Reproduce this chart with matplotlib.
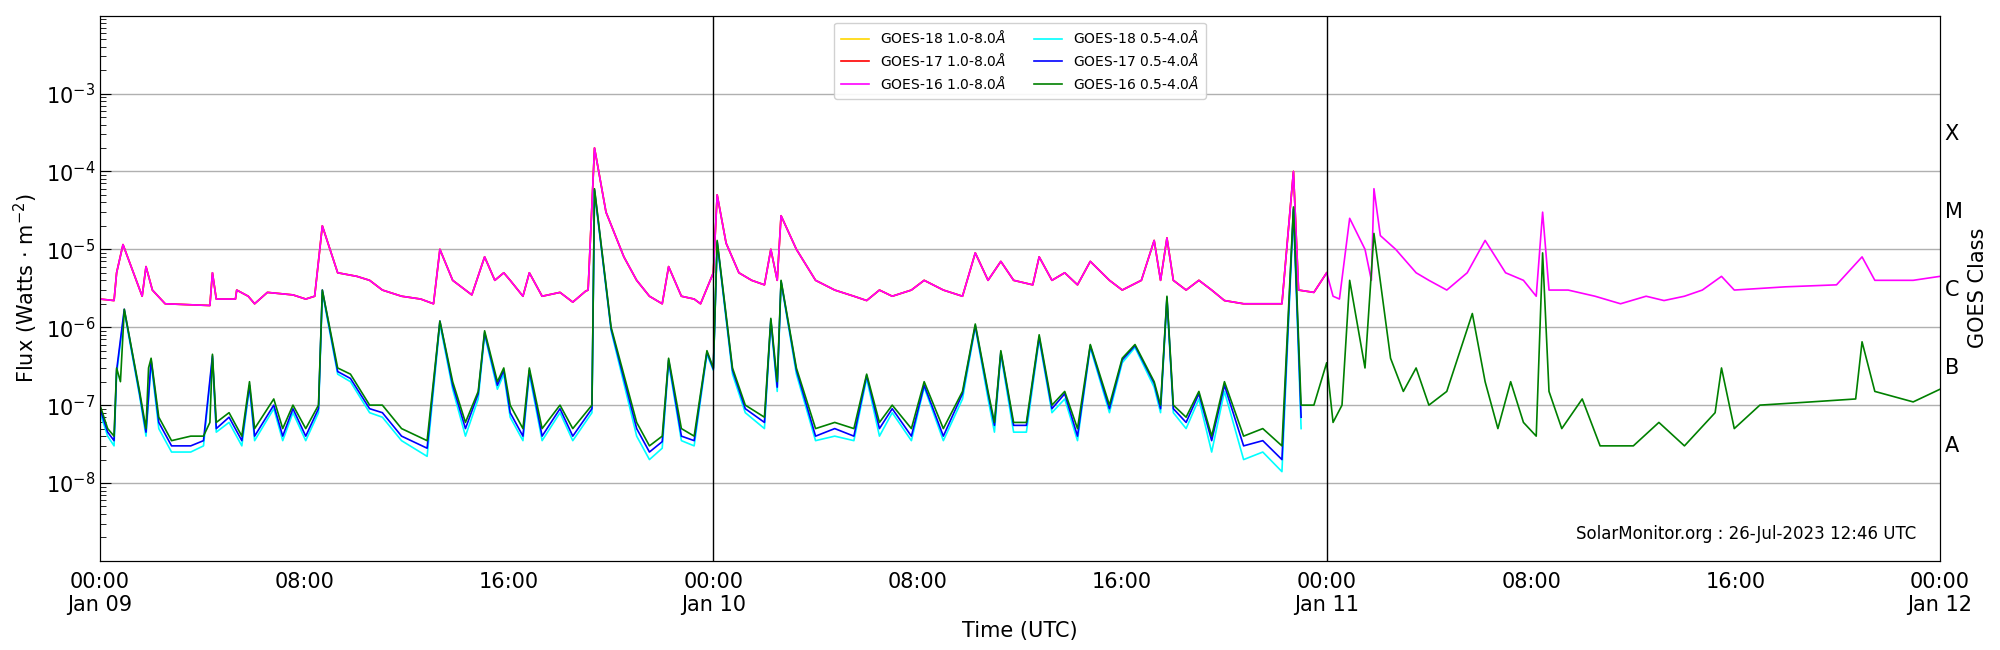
import matplotlib
matplotlib.use("Agg")
import matplotlib.pyplot as plt
from matplotlib.ticker import LogLocator, NullFormatter, FixedLocator

# hours since 2023-01-09 00:00 UTC, flux in W m^-2
g16_long = [
    (0, 2.3e-6), (0.55, 2.2e-6), (0.65, 5e-6), (0.9, 1.15e-5), (1.65, 2.5e-6), (1.8, 6e-6), (2.05, 3e-6),
    (2.55, 2e-6), (4.3, 1.9e-6), (4.4, 5e-6), (4.55, 2.3e-6), (5.3, 2.3e-6), (5.35, 3e-6), (5.8, 2.5e-6),
    (6.05, 2e-6), (6.55, 2.8e-6), (7.05, 2.7e-6), (7.55, 2.6e-6), (8.05, 2.3e-6), (8.4, 2.5e-6), (8.7, 2e-5),
    (9.3, 5e-6), (10.05, 4.5e-6), (10.55, 4e-6), (11.05, 3e-6), (11.8, 2.5e-6), (12.55, 2.3e-6), (13.05, 2e-6),
    (13.3, 1e-5), (13.8, 4e-6), (14.55, 2.6e-6), (15.05, 8e-6), (15.45, 4e-6), (15.8, 5e-6), (16.05, 4e-6),
    (16.55, 2.5e-6), (16.8, 5e-6), (17.3, 2.5e-6), (18.0, 2.8e-6), (18.5, 2.1e-6), (19.0, 2.9e-6), (19.1, 3e-6),
    (19.35, 2e-4), (19.8, 3e-5), (20.5, 8e-6), (21.0, 4e-6), (21.5, 2.5e-6), (22.0, 2e-6), (22.25, 6e-6),
    (22.75, 2.5e-6), (23.25, 2.3e-6), (23.5, 2e-6), (24.0, 5e-6), (24.15, 5e-5), (24.5, 1.2e-5), (25.0, 5e-6),
    (25.5, 4e-6), (26.0, 3.5e-6), (26.25, 1e-5), (26.5, 4e-6), (26.65, 2.7e-5), (27.25, 1e-5), (28.0, 4e-6),
    (28.75, 3e-6), (29.5, 2.5e-6), (30.0, 2.2e-6), (30.5, 3e-6), (31.0, 2.5e-6), (31.75, 3e-6), (32.25, 4e-6),
    (33.0, 3e-6), (33.75, 2.5e-6), (34.25, 9e-6), (34.75, 4e-6), (35.25, 7e-6), (35.75, 4e-6), (36.5, 3.5e-6),
    (36.75, 8e-6), (37.25, 4e-6), (37.75, 5e-6), (38.25, 3.5e-6), (38.75, 7e-6), (39.5, 4e-6), (40.0, 3e-6),
    (40.75, 4e-6), (41.25, 1.3e-5), (41.5, 4e-6), (41.75, 1.4e-5), (42.0, 4e-6), (42.5, 3e-6), (43.0, 4e-6),
    (43.5, 3e-6), (44.0, 2.2e-6), (44.75, 2e-6), (45.5, 2e-6), (46.25, 2e-6), (46.7, 1e-4), (46.9, 3e-6),
    (47.5, 2.8e-6), (48.0, 5e-6), (48.25, 2.5e-6), (48.5, 2.3e-6), (48.9, 2.5e-5), (49.5, 1e-5), (49.75, 4e-6),
    (49.85, 6e-5), (50.1, 1.5e-5), (50.7, 1e-5), (51.5, 5e-6), (52.0, 4e-6), (52.7, 3e-6), (53.5, 5e-6),
    (54.2, 1.3e-5), (55.0, 5e-6), (55.7, 4e-6), (56.2, 2.5e-6), (56.45, 3e-5), (56.7, 3e-6), (57.45, 3e-6),
    (58.5, 2.5e-6), (59.5, 2e-6), (60.5, 2.5e-6), (61.2, 2.2e-6), (62.0, 2.5e-6), (62.7, 3e-6), (63.45, 4.5e-6),
    (63.95, 3e-6), (65.95, 3.3e-6), (67.95, 3.5e-6), (68.95, 8e-6), (69.45, 4e-6), (70.95, 4e-6), (72, 4.5e-6),
]

g16_short = [
    (0, 1e-7), (0.3, 5e-8), (0.55, 4e-8), (0.65, 3e-7), (0.8, 2e-7), (0.95, 1.7e-6), (1.55, 1.5e-7),
    (1.8, 5e-8), (1.9, 3e-7), (2.0, 4e-7), (2.3, 7e-8), (2.8, 3.5e-8), (3.55, 4e-8), (4.05, 4e-8), (4.3, 6e-8),
    (4.4, 4.5e-7), (4.55, 6e-8), (5.05, 8e-8), (5.55, 4e-8), (5.85, 2e-7), (6.05, 5e-8), (6.8, 1.2e-7),
    (7.15, 5e-8), (7.55, 1e-7), (8.05, 5e-8), (8.55, 1e-7), (8.7, 3e-6), (9.3, 3e-7), (9.8, 2.5e-7),
    (10.55, 1e-7), (11.05, 1e-7), (11.8, 5e-8), (12.8, 3.5e-8), (13.3, 1.2e-6), (13.8, 2e-7), (14.3, 6e-8),
    (14.8, 1.5e-7), (15.05, 9e-7), (15.55, 2e-7), (15.8, 3e-7), (16.05, 1e-7), (16.55, 5e-8), (16.8, 3e-7),
    (17.3, 5e-8), (18.0, 1e-7), (18.5, 5e-8), (19.25, 1e-7), (19.35, 6e-5), (20.0, 1e-6), (21.0, 6e-8),
    (21.5, 3e-8), (22.0, 4e-8), (22.25, 4e-7), (22.75, 5e-8), (23.25, 4e-8), (23.75, 5e-7), (24.0, 3e-7),
    (24.15, 1.3e-5), (24.75, 3e-7), (25.25, 1e-7), (26.0, 7e-8), (26.25, 1.3e-6), (26.5, 2e-7), (26.65, 4e-6),
    (27.25, 3e-7), (28.0, 5e-8), (28.75, 6e-8), (29.5, 5e-8), (30.0, 2.5e-7), (30.5, 6e-8), (31.0, 1e-7),
    (31.75, 5e-8), (32.25, 2e-7), (33.0, 5e-8), (33.75, 1.5e-7), (34.25, 1.1e-6), (34.75, 1.5e-7), (35.0, 6e-8),
    (35.25, 5e-7), (35.75, 6e-8), (36.25, 6e-8), (36.75, 8e-7), (37.25, 1e-7), (37.75, 1.5e-7), (38.25, 5e-8),
    (38.75, 6e-7), (39.5, 1e-7), (40.0, 4e-7), (40.5, 6e-7), (41.25, 2e-7), (41.5, 1e-7), (41.75, 2.5e-6),
    (42.0, 1e-7), (42.5, 7e-8), (43.0, 1.5e-7), (43.5, 4e-8), (44.0, 2e-7), (44.75, 4e-8), (45.5, 5e-8),
    (46.25, 3e-8), (46.7, 3.5e-5), (47.0, 1e-7), (47.5, 1e-7), (48.0, 3.5e-7), (48.25, 6e-8), (48.6, 1e-7),
    (48.9, 4e-6), (49.5, 3e-7), (49.85, 1.6e-5), (50.5, 4e-7), (51.0, 1.5e-7), (51.5, 3e-7), (52.0, 1e-7),
    (52.7, 1.5e-7), (53.7, 1.5e-6), (54.2, 2e-7), (54.7, 5e-8), (55.2, 2e-7), (55.7, 6e-8), (56.2, 4e-8),
    (56.45, 9e-6), (56.7, 1.5e-7), (57.2, 5e-8), (58.0, 1.2e-7), (58.7, 3e-8), (60.0, 3e-8), (61.0, 6e-8),
    (62.0, 3e-8), (63.2, 8e-8), (63.45, 3e-7), (63.95, 5e-8), (64.95, 1e-7), (66.95, 1.1e-7), (68.7, 1.2e-7),
    (68.95, 6.5e-7), (69.45, 1.5e-7), (70.95, 1.1e-7), (72, 1.6e-7),
]

short_hours = [
    0, 0.3, 0.55, 0.65, 0.95, 1.55, 1.8, 2.0, 2.3, 2.8,
    3.55, 4.05, 4.4, 4.55, 5.05, 5.55, 5.85, 6.05, 6.8, 7.15,
    7.55, 8.05, 8.55, 8.7, 9.3, 9.8, 10.55, 11.05, 11.8, 12.8,
    13.3, 13.8, 14.3, 14.8, 15.05, 15.55, 15.8, 16.05, 16.55, 16.8,
    17.3, 18.0, 18.5, 19.25, 19.35, 20.0, 21.0, 21.5, 22.0, 22.25,
    22.75, 23.25, 23.75, 24.0, 24.15, 24.75, 25.25, 26.0, 26.25, 26.5,
    26.65, 27.25, 28.0, 28.75, 29.5, 30.0, 30.5, 31.0, 31.75, 32.25,
    33.0, 33.75, 34.25, 34.75, 35.0, 35.25, 35.75, 36.25, 36.75, 37.25,
    37.75, 38.25, 38.75, 39.5, 40.0, 40.5, 41.25, 41.5, 41.75, 42.0,
    42.5, 43.0, 43.5, 44.0, 44.75, 45.5, 46.25, 46.7, 47.0,
]
g18_short = [
    8e-8, 4e-8, 3e-8, 2.5e-7, 1.6e-6, 1.3e-7, 4e-8, 3.5e-7, 5e-8, 2.5e-8,
    2.5e-8, 3e-8, 4e-7, 4.5e-8, 6e-8, 3e-8, 1.7e-7, 3.5e-8, 9e-8, 3.5e-8,
    8e-8, 3.5e-8, 8e-8, 2.8e-6, 2.5e-7, 2e-7, 8e-8, 7e-8, 3.5e-8, 2.2e-8,
    1.1e-6, 1.6e-7, 4e-8, 1.2e-7, 8e-7, 1.6e-7, 2.5e-7, 7e-8, 3.5e-8, 2.5e-7,
    3.5e-8, 8e-8, 3.5e-8, 8e-8, 5.5e-5, 9e-7, 4e-8, 2e-8, 2.8e-8, 3.5e-7,
    3.5e-8, 3e-8, 4.5e-7, 2.8e-7, 1.2e-5, 2.5e-7, 8e-8, 5e-8, 1.2e-6, 1.5e-7,
    3.8e-6, 2.5e-7, 3.5e-8, 4e-8, 3.5e-8, 2.2e-7, 4e-8, 8e-8, 3.5e-8, 1.7e-7,
    3.5e-8, 1.2e-7, 1e-6, 1.2e-7, 4.5e-8, 4.5e-7, 4.5e-8, 4.5e-8, 7e-7, 8e-8,
    1.2e-7, 3.5e-8, 5.5e-7, 8e-8, 3.5e-7, 5.5e-7, 1.7e-7, 8e-8, 2.3e-6, 8e-8,
    5e-8, 1.2e-7, 2.5e-8, 1.5e-7, 2e-8, 2.5e-8, 1.4e-8, 3e-5, 5e-8,
]
g17_short = [
    9e-8, 4.5e-8, 3.5e-8, 2.8e-7, 1.7e-6, 1.4e-7, 4.5e-8, 3.8e-7, 6e-8, 3e-8,
    3e-8, 3.5e-8, 4.3e-7, 5e-8, 7e-8, 3.5e-8, 1.8e-7, 4e-8, 1e-7, 4e-8,
    9e-8, 4e-8, 9e-8, 3e-6, 2.7e-7, 2.2e-7, 9e-8, 8e-8, 4e-8, 2.8e-8,
    1.2e-6, 1.8e-7, 5e-8, 1.4e-7, 8.5e-7, 1.8e-7, 2.8e-7, 8e-8, 4e-8, 2.8e-7,
    4e-8, 9e-8, 4e-8, 9e-8, 5.8e-5, 9.5e-7, 5e-8, 2.5e-8, 3.4e-8, 3.8e-7,
    4e-8, 3.5e-8, 4.8e-7, 2.9e-7, 1.25e-5, 2.8e-7, 9e-8, 6e-8, 1.25e-6, 1.7e-7,
    3.9e-6, 2.8e-7, 4e-8, 5e-8, 4e-8, 2.4e-7, 5e-8, 9e-8, 4e-8, 1.8e-7,
    4e-8, 1.4e-7, 1.05e-6, 1.4e-7, 5.5e-8, 4.8e-7, 5.5e-8, 5.5e-8, 7.5e-7, 9e-8,
    1.4e-7, 4e-8, 5.8e-7, 9e-8, 3.8e-7, 5.8e-7, 1.9e-7, 9e-8, 2.4e-6, 9e-8,
    6e-8, 1.4e-7, 3.5e-8, 1.8e-7, 3e-8, 3.5e-8, 2e-8, 3.3e-5, 7e-8,
]

xtick_labels = ["00:00\nJan 09", "08:00", "16:00", "00:00\nJan 10", "08:00", "16:00",
                "00:00\nJan 11", "08:00", "16:00", "00:00\nJan 12"]
goes_classes = ["A", "B", "C", "M", "X"]

lh, lv = zip(*g16_long)
sh, sv = zip(*g16_short)
early = [(h, v) for h, v in g16_long if h <= 48]
eh, ev = zip(*early)

fig = plt.figure(figsize=(20, 6.5), dpi=100)
ax = fig.add_axes([0.05, 0.137, 0.92, 0.839])

ax.plot(eh, ev, color="gold", lw=1.2, label="GOES-18 1.0-8.0$\\AA$")
ax.plot(eh, ev, color="red", lw=1.2, label="GOES-17 1.0-8.0$\\AA$")
ax.plot(lh, lv, color="magenta", lw=1.2, label="GOES-16 1.0-8.0$\\AA$")
ax.plot(short_hours, g18_short, color="cyan", lw=1.2, label="GOES-18 0.5-4.0$\\AA$")
ax.plot(short_hours, g17_short, color="blue", lw=1.2, label="GOES-17 0.5-4.0$\\AA$")
ax.plot(sh, sv, color="green", lw=1.2, label="GOES-16 0.5-4.0$\\AA$")

ax.set_yscale("log")
ax.set_ylim(1e-9, 1e-2)
ax.set_xlim(0, 72)
ax.yaxis.set_major_locator(FixedLocator([1e-8, 1e-7, 1e-6, 1e-5, 1e-4, 1e-3]))
ax.yaxis.set_minor_locator(LogLocator(base=10, subs=range(2, 10), numticks=20))
ax.yaxis.set_minor_formatter(NullFormatter())
ax.set_xticks(range(0, 73, 8))
ax.set_xticklabels(xtick_labels)
ax.tick_params(axis="both", which="both", direction="in", labelsize=15)
ax.tick_params(axis="y", which="major", length=8)
ax.tick_params(axis="y", which="minor", length=4)
ax.tick_params(axis="x", length=0, pad=8)
ax.grid(axis="y", which="major", color="#b0b0b0", lw=1)
ax.axvline(24, color="black", lw=1)
ax.axvline(48, color="black", lw=1)

ax.set_xlabel("Time (UTC)", fontsize=15)
ax.set_ylabel("Flux (Watts $\\cdot$ m$^{-2}$)", fontsize=15)

ax2 = ax.twinx()
ax2.set_yscale("log")
ax2.set_ylim(1e-9, 1e-2)
ax2.set_yticks([10 ** (-7.5), 10 ** (-6.5), 10 ** (-5.5), 10 ** (-4.5), 10 ** (-3.5)])
ax2.set_yticklabels(goes_classes)
ax2.yaxis.set_minor_locator(FixedLocator([]))
ax2.tick_params(axis="y", length=0, labelsize=15)
ax2.set_ylabel("GOES Class", fontsize=15)

ax.text(0.987, 0.033, "SolarMonitor.org : 26-Jul-2023 12:46 UTC", transform=ax.transAxes,
        ha="right", va="bottom", fontsize=12)
ax.legend(ncol=2, loc="upper center", fontsize=10, framealpha=0.9, borderpad=0.5,
          labelspacing=0.4, bbox_to_anchor=(0.5, 1.0))

fig.savefig("out.png")
